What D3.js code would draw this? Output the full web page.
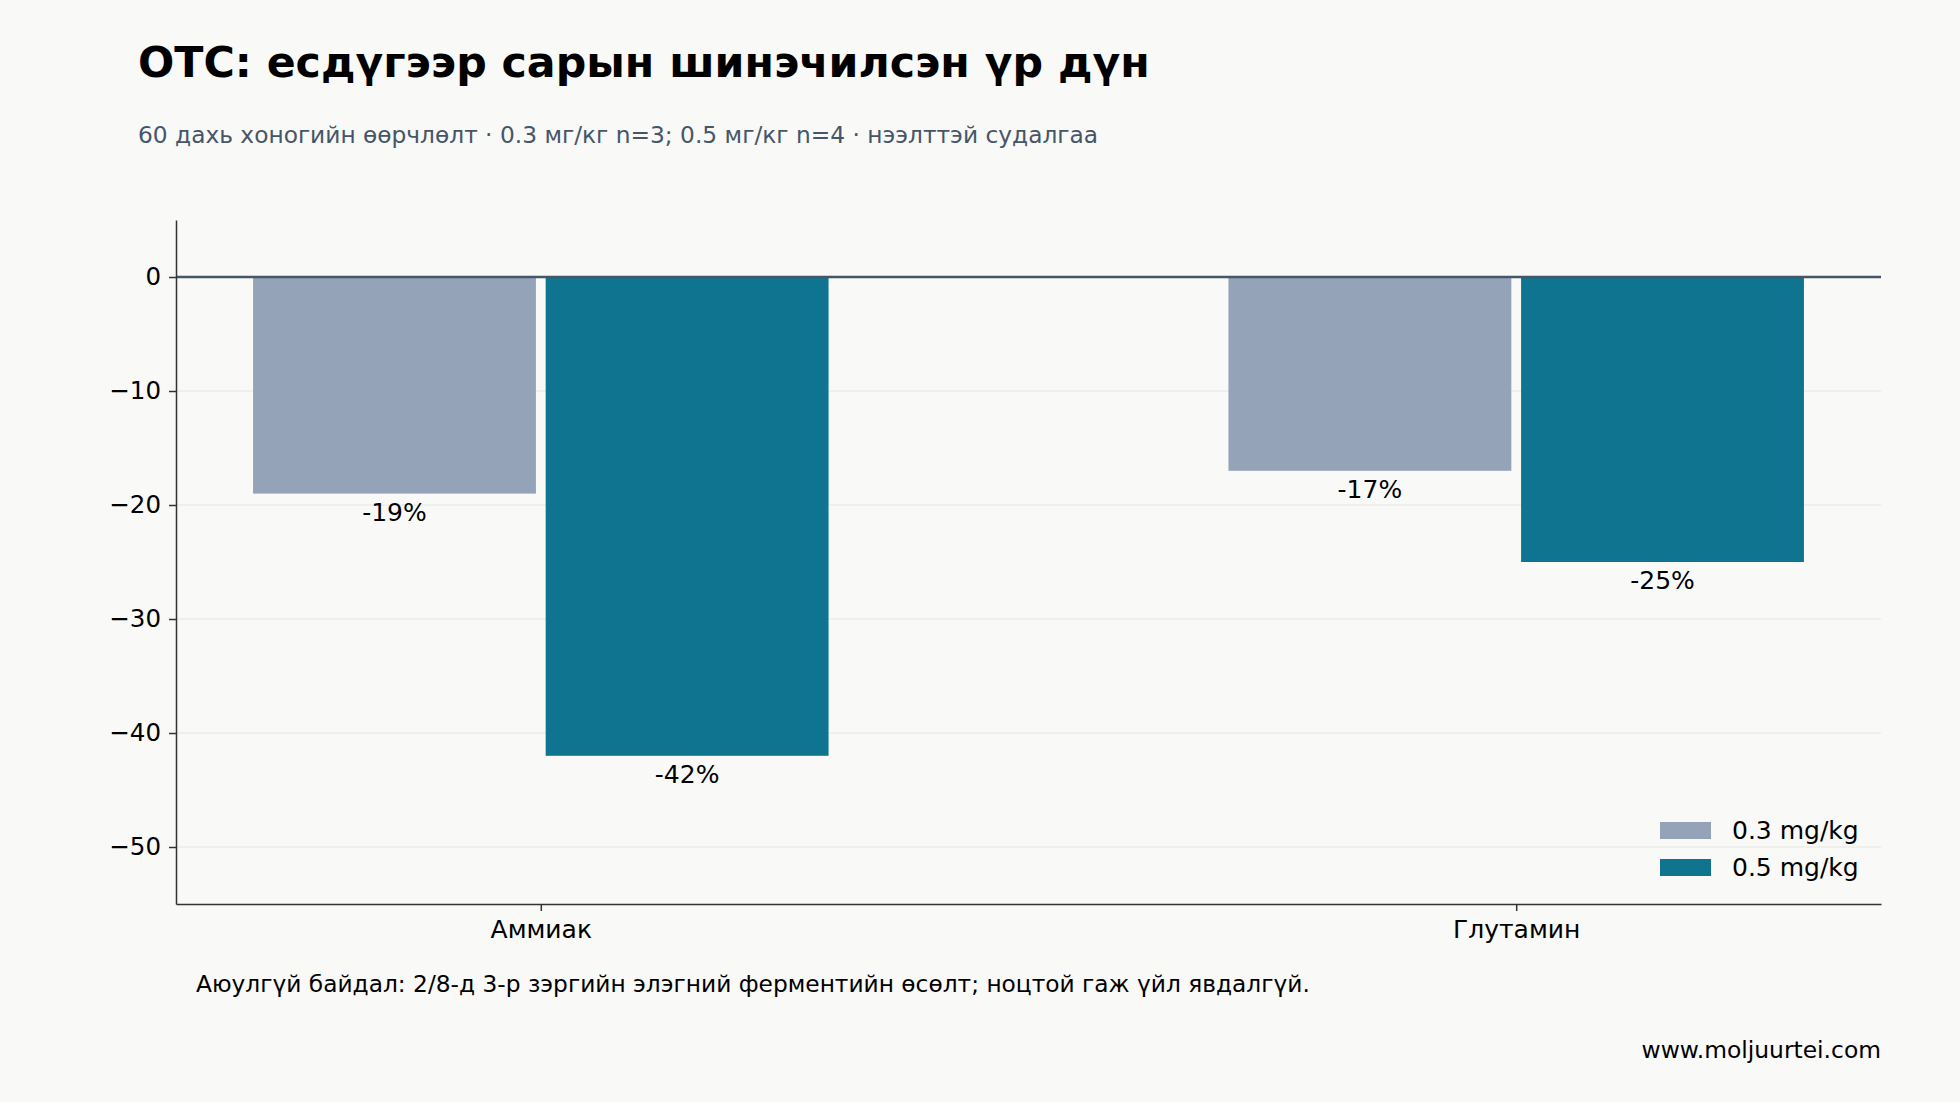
<!DOCTYPE html>
<html>
<head>
<meta charset="utf-8">
<script src="https://cdn.jsdelivr.net/npm/d3@7"></script>
<style>
  html, body { margin: 0; padding: 0; background: #f9f9f7; }
  svg { display: block; font-family: "DejaVu Sans", sans-serif; }
</style>
</head>
<body>
<div class="chart"></div>
<script>
// data
const categories = ["Аммиак", "Глутамин"];
const seriesNames = ["0.3 mg/kg", "0.5 mg/kg"];
const dose03 = [-19, -17];
const dose05 = [-42, -25];
const yTicks = [0, -10, -20, -30, -40, -50];

const seriesColors = ["#94a3b8", "#0e7490"];

const W = 1960, H = 1102;
const margin = { top: 220, right: 79, bottom: 198, left: 176 };
const width = W - margin.left - margin.right,
  height = H - margin.top - margin.bottom;

const svg = d3.select(".chart").append("svg")
  .attr("width", W)
  .attr("height", H);

svg.append("rect").attr("width", W).attr("height", H).attr("fill", "#f9f9f7");

// title + subtitle
svg.append("text")
  .attr("x", 138).attr("y", 77)
  .attr("font-size", 42.7).attr("font-weight", "bold").attr("fill", "#000")
  .text("OTC: есдүгээр сарын шинэчилсэн үр дүн");

svg.append("text")
  .attr("x", 138).attr("y", 143)
  .attr("font-size", 23.3).attr("fill", "#475569")
  .text("60 дахь хоногийн өөрчлөлт · 0.3 мг/кг n=3; 0.5 мг/кг n=4 · нээлттэй судалгаа");

const g = svg.append("g")
  .attr("transform", "translate(" + margin.left + "," + margin.top + ")");

// category index scale, like matplotlib's x positions 0..n-1
const x = d3.scaleLinear()
  .domain([-0.374, categories.length - 1 + 0.374])
  .range([0, width]);

const y = d3.scaleLinear()
  .domain([5, -55])
  .range([0, height]);

const barW = 0.29;
const offsets = [-0.15, 0.15];

// gridlines
g.append("g")
  .selectAll("line")
  .data(yTicks.filter(d => d !== 0))
  .join("line")
  .attr("x1", 0).attr("x2", width)
  .attr("y1", d => y(d)).attr("y2", d => y(d))
  .attr("stroke", "#ebebe9").attr("stroke-width", 1.5);

// bars
const rows = [];
categories.forEach((c, i) => {
  [dose03[i], dose05[i]].forEach((v, s) => rows.push({ cat: i, series: s, value: v }));
});

g.append("g")
  .selectAll("rect")
  .data(rows)
  .join("rect")
  .attr("x", d => x(d.cat + offsets[d.series] - barW / 2))
  .attr("width", d => x(barW) - x(0))
  .attr("y", d => y(0))
  .attr("height", d => y(d.value) - y(0))
  .attr("fill", d => seriesColors[d.series]);

// value labels under each bar
g.append("g")
  .attr("text-anchor", "middle")
  .attr("font-size", 25)
  .attr("fill", "#000")
  .selectAll("text")
  .data(rows)
  .join("text")
  .attr("x", d => x(d.cat + offsets[d.series]))
  .attr("y", d => y(d.value) + 27)
  .text(d => d.value + "%");

// zero line
g.append("line")
  .attr("x1", 0).attr("x2", width)
  .attr("y1", y(0)).attr("y2", y(0))
  .attr("stroke", "#475569").attr("stroke-width", 2.5);

// y axis
const yAxis = g.append("g")
  .call(d3.axisLeft(y).tickValues(yTicks).tickSize(7).tickSizeOuter(0).tickPadding(8));
yAxis.select(".domain").attr("stroke", "#333").attr("stroke-width", 1.5);
yAxis.selectAll(".tick line").attr("stroke", "#333").attr("stroke-width", 1.5);
yAxis.selectAll(".tick text")
  .attr("font-size", 24.5).attr("fill", "#000")
  .attr("font-family", "DejaVu Sans, sans-serif");

// x axis
const xAxis = g.append("g")
  .attr("transform", "translate(0," + height + ")")
  .call(d3.axisBottom(x).tickValues(d3.range(categories.length))
    .tickFormat(i => categories[i]).tickSize(7).tickPadding(9).tickSizeOuter(0));
xAxis.select(".domain").attr("stroke", "#333").attr("stroke-width", 1.5);
xAxis.selectAll(".tick line").attr("stroke", "#333").attr("stroke-width", 1.5);
xAxis.selectAll(".tick text")
  .attr("font-size", 25).attr("fill", "#000")
  .attr("font-family", "DejaVu Sans, sans-serif");

// legend, bottom right inside the plot
const legend = g.append("g")
  .attr("transform", "translate(" + (width - 221) + "," + (height - 82) + ")");
seriesNames.forEach((name, i) => {
  const row = legend.append("g").attr("transform", "translate(0," + (i * 37) + ")");
  row.append("rect")
    .attr("width", 51).attr("height", 17)
    .attr("fill", seriesColors[i]);
  row.append("text")
    .attr("x", 72).attr("y", 17)
    .attr("font-size", 25).attr("fill", "#000")
    .text(name);
});

// footnote + source
svg.append("text")
  .attr("x", 196).attr("y", 992)
  .attr("font-size", 23.3).attr("fill", "#000")
  .text("Аюулгүй байдал: 2/8-д 3-р зэргийн элэгний ферментийн өсөлт; ноцтой гаж үйл явдалгүй.");

svg.append("text")
  .attr("x", W - margin.right).attr("y", 1058)
  .attr("text-anchor", "end")
  .attr("font-size", 23.4).attr("fill", "#000")
  .text("www.moljuurtei.com");
</script>
</body>
</html>
